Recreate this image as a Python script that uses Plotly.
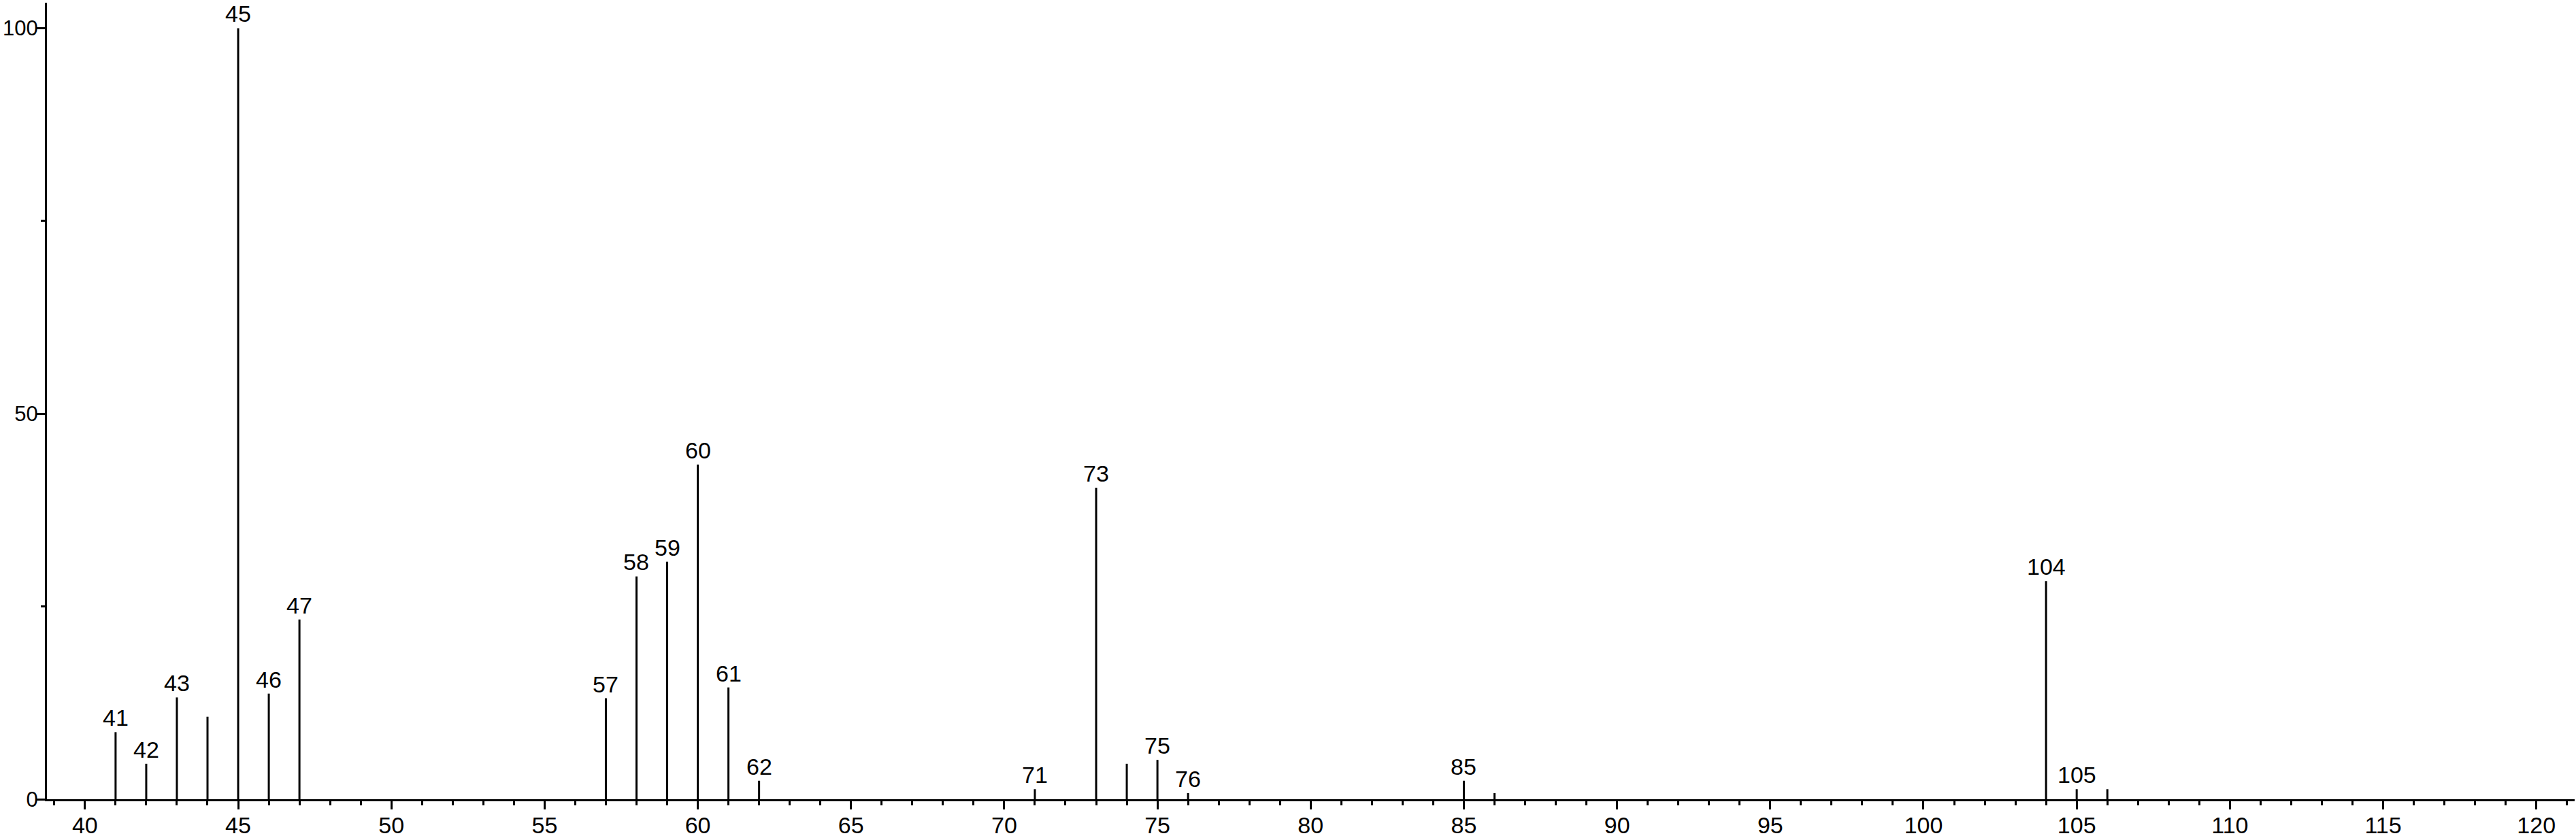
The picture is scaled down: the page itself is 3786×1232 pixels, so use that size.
import plotly.graph_objects as go

# m/z values and relative intensities
mz = [41, 42, 43, 44, 45, 46, 47, 57, 58, 59, 60, 61, 62, 71, 73, 74, 75, 76, 85, 86, 104, 105, 106]
intensity = [8.7, 4.6, 13.2, 10.7, 100.0, 13.7, 23.3, 13.1, 28.9, 30.8, 43.4, 14.5, 2.4,
             1.3, 40.4, 4.6, 5.1, 0.8, 2.4, 0.8, 28.3, 1.3, 1.3]
labeled = [41, 42, 43, 45, 46, 47, 57, 58, 59, 60, 61, 62, 71, 73, 75, 76, 85, 104, 105]

x_tick_vals = list(range(40, 121, 5))
y_tick_vals = [0, 50, 100]

FONT = "Liberation Sans, Arial, sans-serif"
FS = 34

xs, ys = [], []
for m, h in zip(mz, intensity):
    xs += [m, m, None]
    ys += [0, h, None]

fig = go.Figure()
fig.add_trace(go.Scatter(x=xs, y=ys, mode="lines",
                         line=dict(color="black", width=3),
                         hoverinfo="skip", showlegend=False))

for m, h in zip(mz, intensity):
    if m in labeled:
        fig.add_annotation(x=m, y=h, text=str(m), showarrow=False,
                           yanchor="bottom", xanchor="center", yshift=0,
                           font=dict(family=FONT, size=FS, color="black"))

fig.update_layout(
    width=3786, height=1232,
    margin=dict(l=69, r=2, t=4, b=57),
    paper_bgcolor="white", plot_bgcolor="white",
    font=dict(family=FONT, size=FS, color="black"),
    showlegend=False,
)
fig.update_xaxes(range=[38.76, 121.25], showline=True, linecolor="black", linewidth=3,
                 showgrid=False, zeroline=False, ticks="outside", ticklen=12, tickwidth=3,
                 tickcolor="black", tickvals=x_tick_vals, ticktext=[str(v) for v in x_tick_vals],
                 automargin=False, ticklabelstandoff=-6,
                 minor=dict(dtick=1, tick0=0, ticks="outside", ticklen=6, tickwidth=3, tickcolor="black"))
fig.update_yaxes(range=[0, 103.3], showline=True, linecolor="black", linewidth=3,
                 showgrid=False, zeroline=False, ticks="outside", ticklen=12, tickwidth=3,
                 tickcolor="black", tickvals=y_tick_vals, ticktext=[str(v) for v in y_tick_vals],
                 ticklabelstandoff=-8, automargin=False, tickfont=dict(size=31),
                 minor=dict(dtick=25, tick0=0, ticks="outside", ticklen=6, tickwidth=3, tickcolor="black"))

fig.write_html("out.html", config={"displayModeBar": False},
               post_script="document.body.style.margin='0';document.body.style.overflow='hidden';")
